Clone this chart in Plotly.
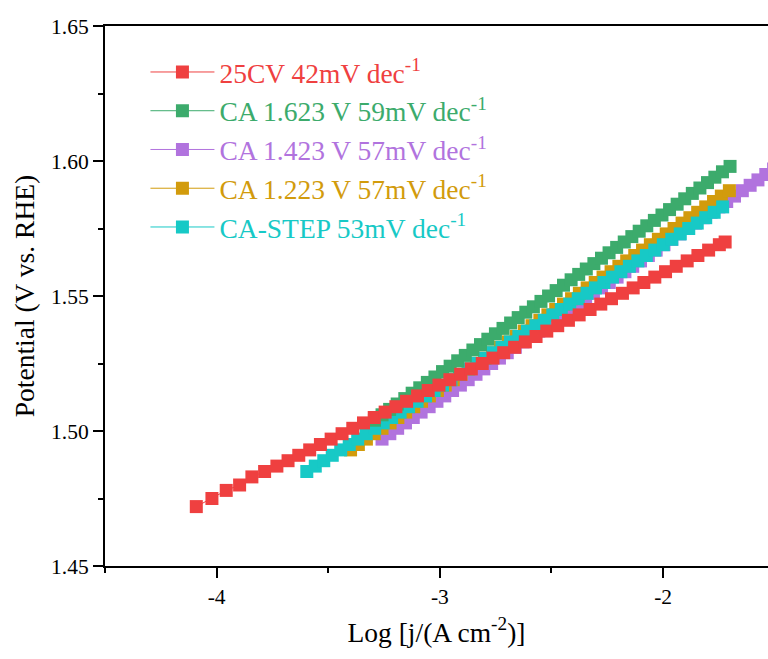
import plotly.graph_objects as go

# Tafel data: log current density (x) vs potential in V vs. RHE (y)
cv25_logj = [-4.091, -4.021, -3.957, -3.897, -3.842, -3.785, -3.730, -3.680,
             -3.632, -3.583, -3.535, -3.487, -3.438, -3.390, -3.342, -3.294, -3.245, -3.197,
             -3.149, -3.100, -3.052, -3.004, -2.955, -2.907, -2.859, -2.810, -2.762, -2.714,
             -2.665, -2.617, -2.569, -2.521, -2.472, -2.424, -2.376, -2.327, -2.279, -2.231,
             -2.182, -2.134, -2.086, -2.037, -1.989, -1.941, -1.892, -1.844, -1.796, -1.748,
             -1.722]
cv25_E = [1.472, 1.475, 1.478, 1.480, 1.483, 1.485, 1.487, 1.489,
          1.491, 1.493, 1.495, 1.497, 1.499, 1.501, 1.503, 1.505, 1.507, 1.509,
          1.511, 1.513, 1.515, 1.517, 1.519, 1.521, 1.523, 1.525, 1.527, 1.529,
          1.531, 1.533, 1.535, 1.537, 1.539, 1.541, 1.543, 1.545, 1.547, 1.549,
          1.551, 1.553, 1.555, 1.557, 1.559, 1.561, 1.563, 1.565, 1.567, 1.569,
          1.570]

ca1623_logj = [-3.293, -3.259, -3.225, -3.191, -3.157, -3.124, -3.090, -3.056, -3.022, -2.988,
               -2.954, -2.920, -2.886, -2.852, -2.818, -2.785, -2.751, -2.717, -2.683, -2.649,
               -2.615, -2.581, -2.547, -2.513, -2.479, -2.446, -2.412, -2.378, -2.344, -2.310,
               -2.276, -2.242, -2.208, -2.174, -2.140, -2.107, -2.073, -2.039, -2.005, -1.971,
               -1.937, -1.903, -1.869, -1.835, -1.801, -1.768, -1.734, -1.700]
ca1623_E = [1.504, 1.506, 1.508, 1.510, 1.512, 1.514, 1.516, 1.518, 1.520, 1.522,
            1.524, 1.526, 1.528, 1.530, 1.532, 1.534, 1.536, 1.538, 1.540, 1.542,
            1.544, 1.546, 1.548, 1.550, 1.552, 1.554, 1.556, 1.558, 1.560, 1.562,
            1.564, 1.566, 1.568, 1.570, 1.572, 1.574, 1.576, 1.578, 1.580, 1.582,
            1.584, 1.586, 1.588, 1.590, 1.592, 1.594, 1.596, 1.598]

ca1423_logj = [-3.259, -3.224, -3.189, -3.154, -3.119, -3.084, -3.048, -3.013, -2.978, -2.943,
               -2.908, -2.873, -2.838, -2.803, -2.768, -2.733, -2.698, -2.662, -2.627, -2.592,
               -2.557, -2.522, -2.487, -2.452, -2.417, -2.382, -2.347, -2.312, -2.276, -2.241,
               -2.206, -2.171, -2.136, -2.101, -2.066, -2.031, -1.996, -1.961, -1.926, -1.890,
               -1.855, -1.820, -1.785, -1.750, -1.715, -1.680, -1.645, -1.610, -1.575, -1.540,
               -1.505, -1.469]
ca1423_E = [1.497, 1.499, 1.501, 1.503, 1.505, 1.507, 1.509, 1.511, 1.513, 1.515,
            1.517, 1.519, 1.521, 1.523, 1.525, 1.527, 1.529, 1.531, 1.533, 1.535,
            1.537, 1.539, 1.541, 1.543, 1.545, 1.547, 1.549, 1.551, 1.553, 1.555,
            1.557, 1.559, 1.561, 1.563, 1.565, 1.567, 1.569, 1.571, 1.573, 1.575,
            1.577, 1.579, 1.581, 1.583, 1.585, 1.587, 1.589, 1.591, 1.593, 1.595,
            1.597, 1.599]

ca1223_logj = [-3.400, -3.365, -3.329, -3.294, -3.259, -3.223, -3.188, -3.153, -3.117, -3.082,
               -3.047, -3.011, -2.976, -2.940, -2.905, -2.870, -2.834, -2.799, -2.764, -2.728,
               -2.693, -2.658, -2.622, -2.587, -2.552, -2.516, -2.481, -2.446, -2.410, -2.375,
               -2.340, -2.304, -2.269, -2.233, -2.198, -2.163, -2.127, -2.092, -2.057, -2.021,
               -1.986, -1.951, -1.915, -1.880, -1.845, -1.809, -1.774, -1.739, -1.703]
ca1223_E = [1.493, 1.495, 1.497, 1.499, 1.501, 1.503, 1.505, 1.507, 1.509, 1.511,
            1.513, 1.515, 1.517, 1.519, 1.521, 1.523, 1.525, 1.527, 1.529, 1.531,
            1.533, 1.535, 1.537, 1.539, 1.541, 1.543, 1.545, 1.547, 1.549, 1.551,
            1.553, 1.555, 1.557, 1.559, 1.561, 1.563, 1.565, 1.567, 1.569, 1.571,
            1.573, 1.575, 1.577, 1.579, 1.581, 1.583, 1.585, 1.587, 1.589]

castep_logj = [-3.596, -3.558, -3.520, -3.482, -3.444, -3.406, -3.368, -3.330, -3.292, -3.254,
               -3.216, -3.178, -3.140, -3.102, -3.064, -3.026, -2.988, -2.950, -2.912, -2.874,
               -2.836, -2.798, -2.760, -2.722, -2.684, -2.646, -2.608, -2.570, -2.532, -2.494,
               -2.456, -2.418, -2.380, -2.341, -2.303, -2.265, -2.227, -2.189, -2.151, -2.113,
               -2.075, -2.037, -1.999, -1.961, -1.923, -1.885, -1.847, -1.809, -1.771, -1.733]
castep_E = [1.485, 1.487, 1.489, 1.491, 1.493, 1.495, 1.497, 1.499, 1.501, 1.503,
            1.505, 1.507, 1.509, 1.511, 1.513, 1.515, 1.517, 1.519, 1.521, 1.523,
            1.525, 1.527, 1.529, 1.531, 1.533, 1.535, 1.537, 1.539, 1.541, 1.543,
            1.545, 1.547, 1.549, 1.551, 1.553, 1.555, 1.557, 1.559, 1.561, 1.563,
            1.565, 1.567, 1.569, 1.571, 1.573, 1.575, 1.577, 1.579, 1.581, 1.583]

series_names = ["25CV 42mV dec<sup>-1</sup>",
                "CA 1.623 V 59mV dec<sup>-1</sup>",
                "CA 1.423 V 57mV dec<sup>-1</sup>",
                "CA 1.223 V 57mV dec<sup>-1</sup>",
                "CA-STEP 53mV dec<sup>-1</sup>"]

x_tick_vals = [-4, -3, -2]
x_tick_text = ["-4", "-3", "-2"]
y_tick_vals = [1.45, 1.50, 1.55, 1.60, 1.65]
y_tick_text = ["1.45", "1.50", "1.55", "1.60", "1.65"]

FONT = "Liberation Serif"
TICK_FONT = dict(family=FONT, size=21.5, color="black")
TITLE_FONT = dict(family=FONT, size=27.5, color="black")

series = [
    # (x, y, name, colour, legend rank) in drawing order, bottom to top
    (ca1423_logj, ca1423_E, series_names[2], "#B173DE", 3),
    (ca1223_logj, ca1223_E, series_names[3], "#D29B0C", 4),
    (castep_logj, castep_E, series_names[4], "#17C9C6", 5),
    (ca1623_logj, ca1623_E, series_names[1], "#3CAB6C", 2),
    (cv25_logj, cv25_E, series_names[0], "#EF4040", 1),
]

fig = go.Figure()
for xs, ys, name, colour, rank in series:
    fig.add_trace(go.Scatter(
        x=xs, y=ys, mode="lines+markers",
        name=f'<span style="color:{colour}">{name}</span>',
        line=dict(color=colour, width=1),
        marker=dict(symbol="square", size=13, color=colour, line=dict(width=0)),
        legendrank=rank,
    ))

fig.update_layout(
    width=768, height=659,
    margin=dict(l=105, r=0, t=26, b=93),
    paper_bgcolor="white", plot_bgcolor="white",
    font=dict(family=FONT, size=21, color="black"),
    showlegend=True,
    legend=dict(
        x=0.061, y=0.96, xanchor="left", yanchor="top",
        bgcolor="rgba(0,0,0,0)", borderwidth=0,
        font=dict(family=FONT, size=27.5),
        itemwidth=64, tracegroupgap=0,
    ),
    xaxis=dict(
        range=[-4.5, -1.53],
        tickmode="array", tickvals=x_tick_vals, ticktext=x_tick_text, tickfont=TICK_FONT,
        ticks="outside", ticklen=10, tickwidth=2, tickcolor="black",
        minor=dict(ticks="outside", ticklen=5, tickwidth=2, tickcolor="black", dtick=0.5, tick0=-4),
        showline=True, linewidth=2, linecolor="black", mirror=True,
        showgrid=False, zeroline=False,
        title=dict(text="Log [j/(A cm<sup>-2</sup>)]", font=TITLE_FONT, standoff=15),
    ),
    yaxis=dict(
        range=[1.45, 1.65],
        tickmode="array", tickvals=y_tick_vals, ticktext=y_tick_text, tickfont=TICK_FONT,
        ticks="outside", ticklen=10, tickwidth=2, tickcolor="black",
        minor=dict(ticks="outside", ticklen=5, tickwidth=2, tickcolor="black", dtick=0.025, tick0=1.45),
        showline=True, linewidth=2, linecolor="black", mirror=False,
        showgrid=False, zeroline=False,
        title=dict(text="Potential (V vs. RHE)", font=TITLE_FONT, standoff=8),
    ),
)

fig.write_html("out.html", config={"displayModeBar": False})
